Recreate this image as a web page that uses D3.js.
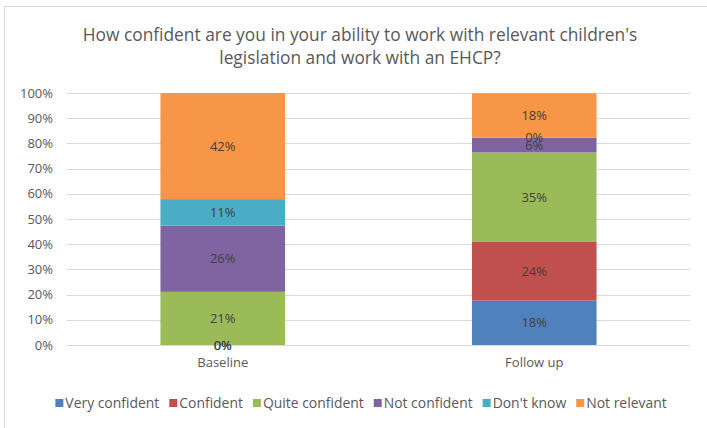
<!DOCTYPE html>
<html><head><meta charset="utf-8">
<script src="https://cdn.jsdelivr.net/npm/d3@7"></script>
<style>html,body{margin:0;padding:0;background:#fff;}svg{display:block;}</style>
</head><body>
<svg id="chart" width="707" height="428"></svg>
<script>
const titleLines = ["How confident are you in your ability to work with relevant children's", "legislation and work with an EHCP?"];
const categories = ["Baseline", "Follow up"];
const seriesNames = ["Very confident", "Confident", "Quite confident", "Not confident", "Don't know", "Not relevant"];
const seriesColors = ["#4F81BD", "#C0504D", "#9BBB59", "#8064A2", "#4BACC6", "#F79646"];
const veryConfident  = [0, 17.6];
const confident      = [0, 23.5];
const quiteConfident = [21.1, 35.3];
const notConfident   = [26.3, 5.9];
const dontKnow       = [10.5, 0];
const notRelevant    = [42.1, 17.6];
const yTicks = [0, 10, 20, 30, 40, 50, 60, 70, 80, 90, 100];

const seriesValues = [veryConfident, confident, quiteConfident, notConfident, dontKnow, notRelevant];
const FONT = "'Open Sans', 'Liberation Sans', sans-serif";
const svg = d3.select("#chart");

// chart border
svg.append("rect").attr("x", 4.5).attr("y", 6.5).attr("width", 720).attr("height", 440)
  .attr("fill", "#fff").attr("stroke", "#d9d9d9").attr("stroke-width", 1);

const plot = {left: 67, right: 690, top: 93, bottom: 345};
const x = d3.scaleBand().domain(categories).range([plot.left, plot.right]).paddingInner(0.6).paddingOuter(0.3);
const y = d3.scaleLinear().domain([0, 100]).range([plot.bottom, plot.top]);

// gridlines
svg.append("g").selectAll("line").data(yTicks).join("line")
  .attr("x1", plot.left).attr("x2", plot.right)
  .attr("y1", d => Math.round(y(d)) + 0.5).attr("y2", d => Math.round(y(d)) + 0.5)
  .attr("stroke", "#d9d9d9").attr("stroke-width", 1);

// y axis labels
const yAxis = svg.append("g").attr("transform", `translate(${plot.left},0)`)
  .call(d3.axisLeft(y).tickValues(yTicks).tickFormat(d => d + "%").tickSize(0).tickPadding(14));
yAxis.select(".domain").remove();
yAxis.selectAll("text").attr("font-family", FONT).attr("font-size", 13).attr("fill", "#595959");

// x axis labels
const xAxis = svg.append("g").attr("transform", `translate(0,${plot.bottom})`)
  .call(d3.axisBottom(x).tickSize(0).tickPadding(13));
xAxis.select(".domain").remove();
xAxis.selectAll("text").attr("font-family", FONT).attr("font-size", 13).attr("fill", "#595959");

// stacked data
const rows = categories.map((c, i) => {
  const r = {cat: c};
  seriesNames.forEach((s, j) => r[s] = seriesValues[j][i]);
  return r;
});
const stacked = d3.stack().keys(seriesNames)(rows);

const gBars = svg.append("g");
stacked.forEach((layer, j) => {
  gBars.append("g").attr("fill", seriesColors[j]).selectAll("rect").data(layer).join("rect")
    .attr("x", d => x(d.data.cat))
    .attr("width", x.bandwidth())
    .attr("y", d => y(d[1]))
    .attr("height", d => y(d[0]) - y(d[1]));
});
const gLabels = svg.append("g");
stacked.forEach((layer, j) => {
  gLabels.selectAll(null).data(layer).join("text")
    .attr("x", d => x(d.data.cat) + x.bandwidth() / 2)
    .attr("y", d => (y(d[0]) + y(d[1])) / 2)
    .attr("dy", "0.35em")
    .attr("text-anchor", "middle")
    .attr("font-family", FONT).attr("font-size", 13).attr("fill", "#404040")
    .text(d => Math.round(d[1] - d[0]) + "%");
});

// title
const title = svg.append("g").attr("font-family", FONT).attr("fill", "#595959").attr("text-anchor", "middle");
const t1 = title.append("text").attr("x", 360).attr("y", 41).attr("font-size", 16).text(titleLines[0]);
const w1 = t1.node().getComputedTextLength();
const tSize = 16 * 555 / w1;
t1.attr("font-size", tSize);
title.append("text").attr("x", 360).attr("y", 64).attr("font-size", tSize).text(titleLines[1]);

// legend
const legend = svg.append("g").attr("font-family", FONT).attr("fill", "#595959");
const probe = legend.append("text").attr("font-size", 13).text(seriesNames[0]);
const lSize = 13 * 94 / probe.node().getComputedTextLength();
probe.remove();
let cx = 0;
const items = [];
seriesNames.forEach((s, j) => {
  const g = legend.append("g");
  g.append("rect").attr("x", 0).attr("y", -4).attr("width", 8).attr("height", 8).attr("fill", seriesColors[j]);
  const t = g.append("text").attr("x", 10).attr("dy", "0.35em").attr("font-size", lSize).text(s);
  const w = 10 + t.node().getComputedTextLength();
  items.push({g, x: cx});
  cx += w + 10;
});
const total = cx - 10;
const startX = 361 - total / 2;
items.forEach(it => it.g.attr("transform", `translate(${startX + it.x},403)`));
</script>
</body></html>
